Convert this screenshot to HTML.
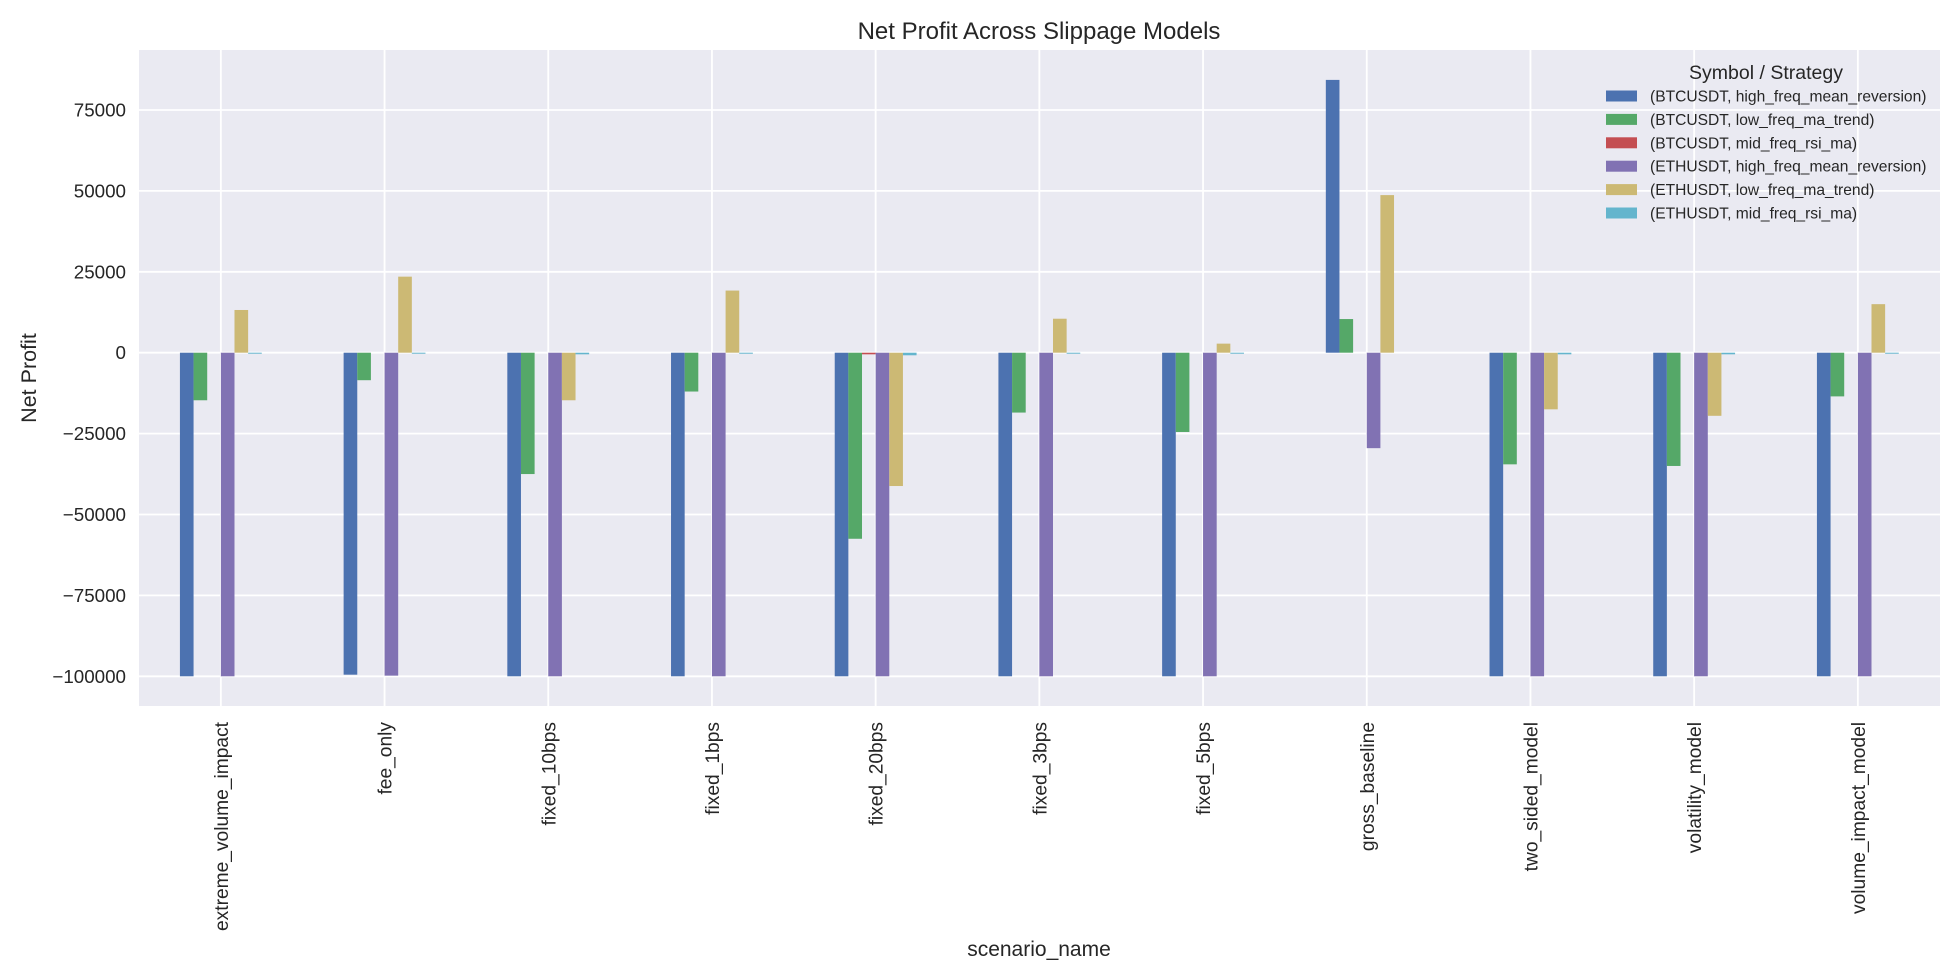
<!DOCTYPE html>
<html><head><meta charset="utf-8"><style>
html,body{margin:0;padding:0;background:#fff;}
svg{display:block;font-family:"Liberation Sans",Arial,sans-serif;}
</style></head><body>
<svg id="s" width="1960" height="980" xmlns="http://www.w3.org/2000/svg">
<rect x="139" y="50" width="1801" height="656" fill="#eaeaf2"/>
<g id="grid" stroke="#fff" stroke-width="1.8"></g>
<g id="bars"></g>
<g id="labels" fill="#262626"></g>
<text x="1039" y="39" font-size="24" text-anchor="middle" fill="#262626">Net Profit Across Slippage Models</text>
<text x="1039" y="956" font-size="21" text-anchor="middle" fill="#262626">scenario_name</text>
<text transform="translate(36,378) rotate(-90)" font-size="21.5" text-anchor="middle" fill="#262626">Net Profit</text>
<g id="legend" fill="#262626"></g>
</svg>
<script>
const ns="http://www.w3.org/2000/svg";
function el(t,a,p,txt){const e=document.createElementNS(ns,t);for(const k in a)e.setAttribute(k,a[k]);if(txt!==undefined)e.textContent=txt;document.getElementById(p).appendChild(e);return e;}
const y0=352.7,k=80.9/25000;
const Y=v=>y0-v*k;
const cats=["extreme_volume_impact","fee_only","fixed_10bps","fixed_1bps","fixed_20bps","fixed_3bps","fixed_5bps","gross_baseline","two_sided_model","volatility_model","volume_impact_model"];
const cols=["#4c72b0","#55a868","#c44e52","#8172b3","#ccb974","#64b5cd"];
const data=[
[-100000,-14700,0,-100000,13200,-300],
[-99500,-8500,0,-99800,23500,-300],
[-100000,-37500,0,-100000,-14700,-500],
[-100000,-12000,0,-100000,19200,-300],
[-100000,-57500,-500,-100000,-41200,-800],
[-100000,-18500,0,-100000,10500,-300],
[-100000,-24500,0,-100000,2800,-300],
[84300,10400,0,-29500,48700,0],
[-100000,-34500,0,-100000,-17500,-500],
[-100000,-35000,0,-100000,-19500,-500],
[-100000,-13500,0,-100000,15000,-300]];
const sp=163.7,x0=139+sp/2;
for(let v=-100000;v<=75000;v+=25000){el("line",{x1:139,x2:1940,y1:Y(v),y2:Y(v)},"grid");
 el("text",{x:126,y:Y(v)+6.5,"font-size":18.8,"text-anchor":"end"},"labels",(v<0?"\u2212":"")+Math.abs(v));}
cats.forEach((c,i)=>{const x=x0+i*sp;el("line",{x1:x,x2:x,y1:50,y2:706},"grid");
 el("text",{transform:`translate(${x+7},722) rotate(-90)`,"font-size":19.2,"text-anchor":"end"},"labels",c);
 const bw=sp*0.5/6;
 data[i].forEach((v,j)=>{if(v===0)return;const bx=x-sp*0.25+j*bw;const a=Y(v),b=Y(0);el("rect",{x:bx,y:Math.min(a,b),width:bw,height:Math.max(Math.abs(a-b),1),fill:cols[j]},"bars");});
});
el("text",{x:1766,y:79,"font-size":19.5,"text-anchor":"middle"},"legend","Symbol / Strategy");
const ln=["(BTCUSDT, high_freq_mean_reversion)","(BTCUSDT, low_freq_ma_trend)","(BTCUSDT, mid_freq_rsi_ma)","(ETHUSDT, high_freq_mean_reversion)","(ETHUSDT, low_freq_ma_trend)","(ETHUSDT, mid_freq_rsi_ma)"];
ln.forEach((t,j)=>{const y=96+j*23.4;el("rect",{x:1606,y:y-5.5,width:31,height:11,fill:cols[j]},"legend");
 el("text",{x:1650,y:y+5.5,"font-size":15.6},"legend",t);});
</script>
</body></html>
